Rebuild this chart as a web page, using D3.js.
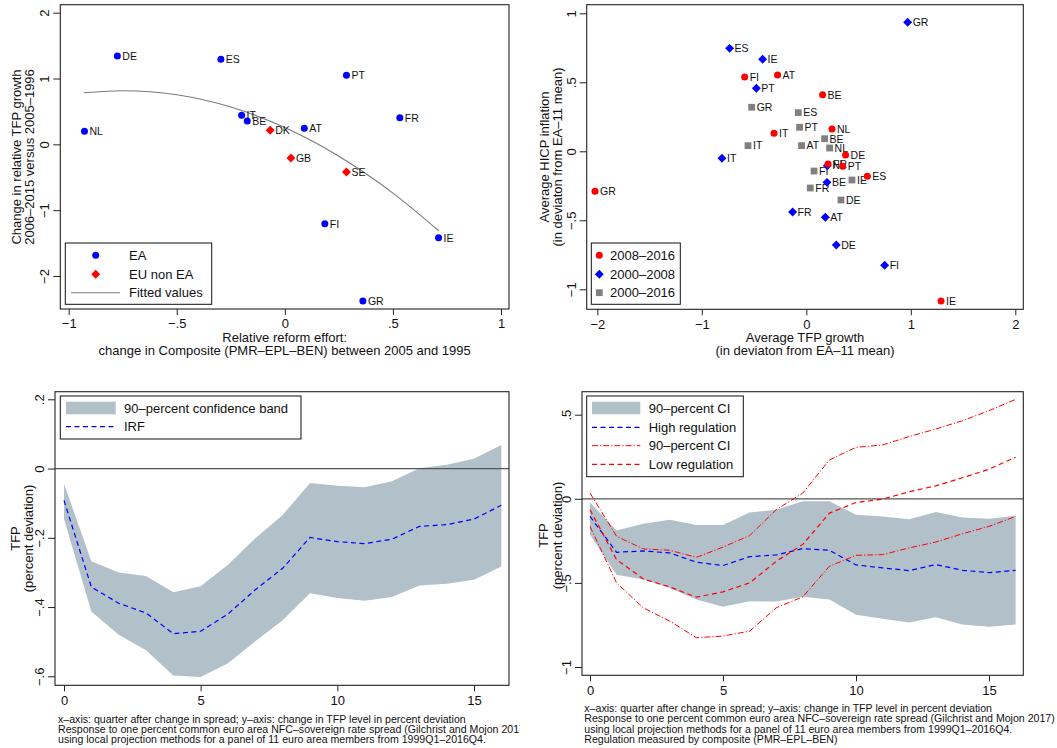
<!DOCTYPE html>
<html>
<head>
<meta charset="utf-8">
<script src="https://cdn.jsdelivr.net/npm/d3@7"></script>
<style>
  body { margin: 0; background: #fff; }
  svg text { font-family: "Liberation Sans", Arial, Helvetica, sans-serif; fill: #111; }
</style>
</head>
<body>
<svg id="chart" width="1057" height="748"></svg>
<script>
// ---------- Panel A: reform effort vs change in relative TFP growth ----------
const eaCountries = ["DE", "ES", "PT", "IT", "BE", "NL", "FR", "AT", "FI", "IE", "GR"];
const eaReform    = [-0.775, -0.296, 0.285, -0.200, -0.174, -0.927, 0.532, 0.090, 0.185, 0.711, 0.361];
const eaTfpChange = [1.342, 1.292, 1.049, 0.441, 0.354, 0.198, 0.405, 0.243, -1.207, -1.419, -2.381];
const nonEaCountries = ["DK", "GB", "SE"];
const nonEaReform    = [-0.068, 0.028, 0.285];
const nonEaTfpChange = [0.213, -0.208, -0.421];
const fitReform = [-0.93, -0.75, -0.5, -0.25, 0, 0.25, 0.5, 0.712];
const fitTfp    = [0.783, 0.815, 0.753, 0.566, 0.255, -0.181, -0.741, -1.313];
const ticksAX = [-1, -0.5, 0, 0.5, 1];
const ticksAY = [-2, -1, 0, 1, 2];

// ---------- Panel B: TFP growth vs HICP inflation by period ----------
const p0816Countries = ["GR", "FI", "AT", "BE", "NL", "IT", "DE", "FR", "PT", "ES", "IE"];
const p0816Tfp  = [-2.022, -0.590, -0.275, 0.156, 0.246, -0.309, 0.376, 0.208, 0.348, 0.584, 1.289];
const p0816Hicp = [-0.290, 0.538, 0.553, 0.410, 0.162, 0.130, -0.027, -0.092, -0.109, -0.181, -1.085];
const p0008Countries = ["GR", "ES", "IE", "PT", "IT", "NL", "BE", "FR", "AT", "DE", "FI"];
const p0008Tfp  = [0.970, -0.734, -0.418, -0.478, -0.807, 0.201, 0.198, -0.131, 0.182, 0.287, 0.750];
const p0008Hicp = [0.935, 0.746, 0.667, 0.457, -0.051, -0.104, -0.225, -0.440, -0.478, -0.679, -0.826];
const p0016Countries = ["GR", "ES", "PT", "IT", "AT", "BE", "NL", "FI", "IE", "FR", "DE"];
const p0016Tfp  = [-0.523, -0.077, -0.064, -0.558, -0.045, 0.175, 0.223, 0.074, 0.437, 0.038, 0.332];
const p0016Hicp = [0.319, 0.280, 0.174, 0.041, 0.041, 0.091, 0.024, -0.143, -0.208, -0.266, -0.353];
const ticksBX = [-2, -1, 0, 1, 2];
const ticksBY = [-1, -0.5, 0, 0.5, 1];

// ---------- Panel C: IRF of TFP to the spread ----------
const quarters = [0, 1, 2, 3, 4, 5, 6, 7, 8, 9, 10, 11, 12, 13, 14, 15, 16];
const irf    = [-0.092, -0.342, -0.389, -0.417, -0.477, -0.470, -0.420, -0.350, -0.288, -0.199, -0.211, -0.217, -0.204, -0.167, -0.162, -0.146, -0.106];
const irfHi  = [-0.044, -0.268, -0.300, -0.310, -0.357, -0.340, -0.278, -0.201, -0.134, -0.042, -0.050, -0.054, -0.037, 0.001, 0.011, 0.028, 0.068];
const irfLo  = [-0.146, -0.413, -0.480, -0.525, -0.598, -0.602, -0.562, -0.499, -0.438, -0.360, -0.374, -0.382, -0.371, -0.338, -0.333, -0.321, -0.283];
const ticksCX = [0, 5, 10, 15];
const ticksCY = [-0.6, -0.4, -0.2, 0, 0.2];

// ---------- Panel D: IRF by regulation level ----------
const highReg   = [-0.105, -0.318, -0.310, -0.322, -0.377, -0.397, -0.344, -0.334, -0.296, -0.306, -0.393, -0.411, -0.427, -0.391, -0.425, -0.439, -0.425];
const highRegHi = [-0.022, -0.188, -0.148, -0.125, -0.156, -0.156, -0.081, -0.065, -0.014, -0.014, -0.095, -0.105, -0.121, -0.079, -0.111, -0.119, -0.101];
const highRegLo = [-0.213, -0.451, -0.480, -0.530, -0.599, -0.642, -0.609, -0.611, -0.583, -0.599, -0.690, -0.713, -0.735, -0.704, -0.747, -0.761, -0.747];
const lowReg    = [-0.065, -0.362, -0.476, -0.524, -0.585, -0.553, -0.500, -0.372, -0.271, -0.085, -0.022, -0.002, 0.042, 0.077, 0.125, 0.176, 0.247];
const lowRegHi  = [0.034, -0.223, -0.298, -0.306, -0.348, -0.287, -0.219, -0.065, 0.034, 0.231, 0.306, 0.320, 0.370, 0.415, 0.464, 0.524, 0.591];
const lowRegLo  = [-0.164, -0.500, -0.648, -0.727, -0.826, -0.816, -0.787, -0.648, -0.583, -0.401, -0.336, -0.332, -0.292, -0.257, -0.208, -0.164, -0.105];
const ticksDX = [0, 5, 10, 15];
const ticksDY = [-1, -0.5, 0, 0.5];

const notesC = [
  "x\u2013axis: quarter after change in spread; y\u2013axis: change in TFP level in percent deviation",
  "Response to one percent common euro area NFC\u2013sovereign rate spread (Gilchrist and Mojon 2017)",
  "using local projection methods for a panel of 11 euro area members from 1999Q1\u20132016Q4."
];
const notesD = [
  "x\u2013axis: quarter after change in spread; y\u2013axis: change in TFP level in percent deviation",
  "Response to one percent common euro area NFC\u2013sovereign rate spread (Gilchrist and Mojon 2017)",
  "using local projection methods for a panel of 11 euro area members from 1999Q1\u20132016Q4.",
  "Regulation measured by composite (PMR\u2013EPL\u2013BEN)"
];

// ---------- styling ----------
const BLUE = "#0000ff", RED = "#ff0000", GREY = "#808080", BAND = "#b2c0ca";
const FS = 13;
const NOTE_FS = 10.6;

const svg = d3.select("#chart");

// Stata-style number format: ".5", "−.5"
const stataFmt = d => {
  if (d === 0) return "0";
  const s = String(Math.abs(+d.toFixed(4))).replace(/^0\./, ".");
  return (d < 0 ? "\u2212" : "") + s;
};

function drawFrame(g, b) {
  g.append("rect")
    .attr("x", b.x0).attr("y", b.y0)
    .attr("width", b.x1 - b.x0).attr("height", b.y1 - b.y0)
    .attr("fill", "none").attr("stroke", "#222").attr("stroke-width", 1.1);
}

function drawAxes(g, b, x, y, xt, yt, xLabelGap, yLabelGap) {
  const ax = g.append("g").attr("transform", `translate(0,${b.y1})`)
    .call(d3.axisBottom(x).tickValues(xt).tickFormat(stataFmt).tickSize(6).tickPadding(xLabelGap));
  ax.select(".domain").remove();
  ax.selectAll("line").attr("stroke", "#222");
  ax.selectAll("text").attr("font-size", FS).attr("fill", "#111");

  const ay = g.append("g").attr("transform", `translate(${b.x0},0)`)
    .call(d3.axisLeft(y).tickValues(yt).tickFormat(stataFmt).tickSize(7));
  ay.select(".domain").remove();
  ay.selectAll("line").attr("stroke", "#222");
  ay.selectAll("text")
    .attr("font-size", FS).attr("fill", "#111")
    .attr("text-anchor", "middle")
    .attr("x", 0).attr("y", -yLabelGap).attr("dy", 0)
    .attr("transform", "rotate(-90)");
}

function rotTitle(g, lines, xs, cy) {
  lines.forEach((t, i) => {
    g.append("text").attr("font-size", FS).attr("text-anchor", "middle")
      .attr("transform", `translate(${xs[i]},${cy}) rotate(-90)`).text(t);
  });
}

function xTitle(g, lines, cx, ys) {
  lines.forEach((t, i) => {
    g.append("text").attr("font-size", FS).attr("text-anchor", "middle")
      .attr("x", cx).attr("y", ys[i]).text(t);
  });
}

const diamond = d3.symbol().type(d3.symbolSquare).size(40)();
const square = d3.symbol().type(d3.symbolSquare).size(46)();

function markers(g, xs, ys, names, x, y, kind, color) {
  const pts = xs.map((v, i) => ({ x: v, y: ys[i], n: names[i] }));
  const sel = g.append("g").selectAll("g").data(pts).join("g")
    .attr("transform", d => `translate(${x(d.x)},${y(d.y)})`);
  if (kind === "circle") sel.append("circle").attr("r", 3.5).attr("fill", color);
  else if (kind === "diamond") sel.append("path").attr("d", diamond).attr("transform", "rotate(45)").attr("fill", color);
  else sel.append("path").attr("d", square).attr("fill", color);
  sel.append("text").attr("x", 5).attr("y", 3.8).attr("font-size", 10.5).text(d => d.n);
}

function legendBox(g, x0, y0, x1, y1) {
  g.append("rect").attr("x", x0).attr("y", y0).attr("width", x1 - x0).attr("height", y1 - y0)
    .attr("fill", "#fff").attr("stroke", "#111").attr("stroke-width", 1);
}

// ================= Panel A =================
{
  const b = { x0: 60.3, y0: 4.7, x1: 509, y1: 309 };
  const g = svg.append("g");
  const x = d3.scaleLinear([-1, 1], [68.7, 501]);
  const y = d3.scaleLinear([-2, 2], [276, 12.7]);

  const fit = fitReform.map((v, i) => [v, fitTfp[i]]);
  g.append("path").datum(fit)
    .attr("d", d3.line().x(d => x(d[0])).y(d => y(d[1])).curve(d3.curveMonotoneX))
    .attr("fill", "none").attr("stroke", "#7a7a7a").attr("stroke-width", 1.1);

  markers(g, eaReform, eaTfpChange, eaCountries, x, y, "circle", BLUE);
  markers(g, nonEaReform, nonEaTfpChange, nonEaCountries, x, y, "diamond", RED);

  drawFrame(g, b);
  drawAxes(g, b, x, y, ticksAX, ticksAY, 4, 11);
  rotTitle(g, ["Change in relative TFP growth", "2006\u20132015 versus 2005\u20131996"], [20.8, 34], 157);
  xTitle(g, ["Relative reform effort:", "change in Composite (PMR\u2013EPL\u2013BEN) between 2005 and 1995"], 284.7, [342.4, 355.4]);

  legendBox(g, 65.3, 243, 211.7, 304.3);
  const ly = [255.3, 274.3, 292.7];
  g.append("circle").attr("cx", 95.7).attr("cy", ly[0]).attr("r", 3.5).attr("fill", BLUE);
  g.append("path").attr("d", diamond).attr("transform", `translate(95.7,${ly[1]}) rotate(45)`).attr("fill", RED);
  g.append("line").attr("x1", 71).attr("x2", 120).attr("y1", ly[2]).attr("y2", ly[2]).attr("stroke", "#7a7a7a").attr("stroke-width", 1.1);
  ["EA", "EU non EA", "Fitted values"].forEach((t, i) =>
    g.append("text").attr("x", 129).attr("y", ly[i] + 4.7).attr("font-size", FS).text(t));
}

// ================= Panel B =================
{
  const b = { x0: 586.7, y0: 4.7, x1: 1023.3, y1: 309.3 };
  const g = svg.append("g");
  const x = d3.scaleLinear([-2, 2], [597.3, 1015.3]);
  const y = d3.scaleLinear([-1, 1], [289.3, 13.3]);

  markers(g, p0016Tfp, p0016Hicp, p0016Countries, x, y, "square", GREY);
  markers(g, p0008Tfp, p0008Hicp, p0008Countries, x, y, "diamond", BLUE);
  markers(g, p0816Tfp, p0816Hicp, p0816Countries, x, y, "circle", RED);

  drawFrame(g, b);
  drawAxes(g, b, x, y, ticksBX, ticksBY, 4, 11);
  rotTitle(g, ["Average HICP inflation", "(in deviaton from EA\u201311 mean)"], [549, 562], 157);
  xTitle(g, ["Average TFP growth", "(in deviaton from EA\u201311 mean)"], 805, [342.4, 355.4]);

  legendBox(g, 591.3, 243, 680.3, 304.3);
  const ly = [255.3, 274.3, 292.7];
  g.append("circle").attr("cx", 599.3).attr("cy", ly[0]).attr("r", 3.5).attr("fill", RED);
  g.append("path").attr("d", diamond).attr("transform", `translate(599.3,${ly[1]}) rotate(45)`).attr("fill", BLUE);
  g.append("path").attr("d", square).attr("transform", `translate(599.3,${ly[2]})`).attr("fill", GREY);
  ["2008\u20132016", "2000\u20132008", "2000\u20132016"].forEach((t, i) =>
    g.append("text").attr("x", 610).attr("y", ly[i] + 4.7).attr("font-size", FS).text(t));
}

// ================= Panel C =================
{
  const b = { x0: 55, y0: 391.7, x1: 509, y1: 685.3 };
  svg.append("clipPath").attr("id", "clipC").append("rect").attr("x", 0).attr("y", 360).attr("width", 520).attr("height", 388);
  const g = svg.append("g").attr("clip-path", "url(#clipC)");
  const x = d3.scaleLinear([0, 15], [64, 474]);
  const y = d3.scaleLinear([-0.6, 0.2], [676.3, 399.3]);

  g.append("path").datum(quarters)
    .attr("d", d3.area().x(q => x(q)).y0((q, i) => y(irfLo[i])).y1((q, i) => y(irfHi[i])))
    .attr("fill", BAND);
  g.append("line").attr("x1", b.x0).attr("x2", b.x1).attr("y1", y(0)).attr("y2", y(0))
    .attr("stroke", "#555").attr("stroke-width", 1.2);
  g.append("path").datum(quarters)
    .attr("d", d3.line().x(q => x(q)).y((q, i) => y(irf[i])))
    .attr("fill", "none").attr("stroke", BLUE).attr("stroke-width", 1.2).attr("stroke-dasharray", "5,3.5");

  drawFrame(g, b);
  drawAxes(g, b, x, y, ticksCX, ticksCY, 4, 11);
  rotTitle(g, ["TFP", "(percent deviation)"], [20.4, 33], 538.5);

  legendBox(g, 60.3, 396, 301, 439);
  g.append("rect").attr("x", 66).attr("y", 401.7).attr("width", 49.7).attr("height", 12.6).attr("fill", BAND);
  g.append("line").attr("x1", 66).attr("x2", 115.7).attr("y1", 426.7).attr("y2", 426.7)
    .attr("stroke", BLUE).attr("stroke-width", 1.2).attr("stroke-dasharray", "5,3.5");
  g.append("text").attr("x", 124).attr("y", 413).attr("font-size", FS).text("90\u2013percent confidence band");
  g.append("text").attr("x", 124).attr("y", 431.4).attr("font-size", FS).text("IRF");

  notesC.forEach((t, i) =>
    g.append("text").attr("x", 58).attr("y", 722.6 + i * 10.3).attr("font-size", NOTE_FS).text(t));
}

// ================= Panel D =================
{
  const b = { x0: 582, y0: 391.7, x1: 1023.3, y1: 675.3 };
  const g = svg.append("g");
  const x = d3.scaleLinear([0, 15], [590, 989]);
  const y = d3.scaleLinear([-1, 0.5], [667, 414.7]);

  g.append("path").datum(quarters)
    .attr("d", d3.area().x(q => x(q)).y0((q, i) => y(highRegLo[i])).y1((q, i) => y(highRegHi[i])))
    .attr("fill", BAND);
  g.append("line").attr("x1", b.x0).attr("x2", b.x1).attr("y1", y(0)).attr("y2", y(0))
    .attr("stroke", "#555").attr("stroke-width", 1.2);

  const line = vals => d3.line().x(q => x(q)).y((q, i) => y(vals[i]))(quarters);
  g.append("path").attr("d", line(highReg)).attr("fill", "none").attr("stroke", BLUE)
    .attr("stroke-width", 1.2).attr("stroke-dasharray", "5,3.5");
  [lowRegHi, lowRegLo].forEach(v =>
    g.append("path").attr("d", line(v)).attr("fill", "none").attr("stroke", RED)
      .attr("stroke-width", 1).attr("stroke-dasharray", "6,2,1.2,2"));
  g.append("path").attr("d", line(lowReg)).attr("fill", "none").attr("stroke", RED)
    .attr("stroke-width", 1.2).attr("stroke-dasharray", "5,3.5");

  drawFrame(g, b);
  drawAxes(g, b, x, y, ticksDX, ticksDY, 4, 11);
  rotTitle(g, ["TFP", "(percent deviation)"], [548, 562], 535.5);

  legendBox(g, 586.7, 396, 743.3, 476.7);
  const ly = [408.3, 427.3, 445.7, 464.3];
  g.append("rect").attr("x", 592).attr("y", 401.7).attr("width", 48.3).attr("height", 12.6).attr("fill", BAND);
  g.append("line").attr("x1", 592).attr("x2", 640.3).attr("y1", ly[1]).attr("y2", ly[1])
    .attr("stroke", BLUE).attr("stroke-width", 1.2).attr("stroke-dasharray", "5,3.5");
  g.append("line").attr("x1", 592).attr("x2", 640.3).attr("y1", ly[2]).attr("y2", ly[2])
    .attr("stroke", RED).attr("stroke-width", 1).attr("stroke-dasharray", "6,2,1.2,2");
  g.append("line").attr("x1", 592).attr("x2", 640.3).attr("y1", ly[3]).attr("y2", ly[3])
    .attr("stroke", RED).attr("stroke-width", 1.2).attr("stroke-dasharray", "5,3.5");
  ["90\u2013percent CI", "High regulation", "90\u2013percent CI", "Low regulation"].forEach((t, i) =>
    g.append("text").attr("x", 648.7).attr("y", ly[i] + 4.7).attr("font-size", FS).text(t));

  notesD.forEach((t, i) =>
    g.append("text").attr("x", 584.3).attr("y", 711.6 + i * 10.6).attr("font-size", NOTE_FS).text(t));
}
</script>
</body>
</html>
